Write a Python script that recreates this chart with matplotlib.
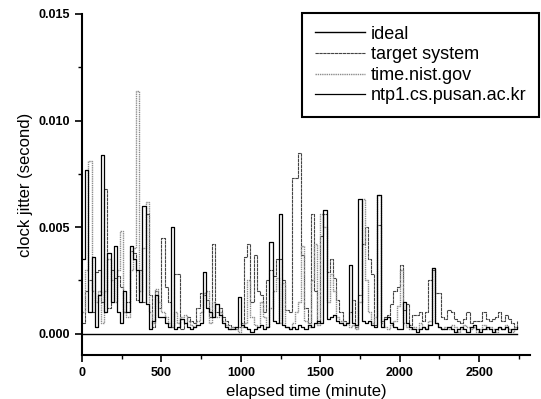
import numpy as np
import matplotlib
matplotlib.use('Agg')
import matplotlib.pyplot as plt
from matplotlib.ticker import MultipleLocator

plt.rcParams['font.family'] = ['Liberation Sans', 'DejaVu Sans']

# sampling grid (minutes) and jitter readings in milliseconds
minutes = np.arange(0, 2760, 20)

target_ms = [
    0.5, 2.0, 2.5, 1.0, 2.9, 3.0, 1.5, 6.8, 1.2, 3.0,
    2.6, 2.7, 2.2, 1.0, 1.5, 3.9, 3.8, 1.6, 3.0, 1.5,
    5.6, 1.8, 0.3, 2.0, 1.2, 4.5, 2.2, 1.5, 0.3, 2.8,
    2.8, 0.2, 0.5, 0.8, 0.6, 0.5, 1.2, 1.9, 1.8, 1.6,
    0.8, 4.2, 1.0, 1.2, 0.8, 0.6, 0.4, 0.3, 0.2, 0.3,
    0.5, 3.6, 4.2, 1.5, 3.7, 2.0, 1.8, 1.0, 2.5, 3.0,
    2.7, 3.5, 3.5, 2.5, 1.1, 1.0, 7.3, 7.3, 8.5, 3.7,
    1.2, 0.5, 5.6, 2.0, 0.5, 4.6, 5.6, 2.9, 3.5, 2.6,
    1.6, 1.0, 0.6, 0.5, 1.0, 1.6, 0.3, 1.8, 4.2, 5.0,
    3.5, 2.8, 0.4, 5.1, 0.6, 0.8, 0.9, 1.4, 2.0, 2.2,
    3.2, 1.1, 1.4, 0.4, 0.9, 0.9, 1.0, 0.6, 1.0, 2.5,
    3.0, 1.9, 1.9, 0.8, 0.7, 1.1, 1.0, 0.7, 0.6, 0.5,
    0.7, 1.0, 0.5, 0.6, 0.6, 0.6, 1.0, 0.7, 0.6, 0.7,
    0.8, 1.0, 0.6, 0.9, 0.7, 0.5, 0.3, 0.6,
]

nist_ms = [
    1.0, 3.0, 8.1, 2.0, 1.5, 2.0, 0.5, 2.0, 3.5, 2.5,
    1.5, 3.0, 4.8, 1.0, 0.8, 3.0, 4.0, 11.4, 2.0, 4.0,
    6.2, 1.0, 0.5, 2.1, 1.5, 1.0, 0.8, 0.5, 0.3, 1.0,
    0.5, 0.8, 0.9, 0.6, 0.4, 0.3, 0.6, 1.0, 1.9, 2.0,
    0.5, 1.5, 0.8, 1.0, 0.6, 0.4, 0.2, 0.3, 0.2, 0.1,
    0.3, 0.5, 2.5, 0.8, 0.4, 0.3, 1.5, 0.8, 0.3, 1.2,
    2.0, 2.6, 0.5, 2.4, 0.3, 0.2, 0.5, 1.0, 1.5, 4.1,
    0.6, 0.3, 2.5, 4.2, 0.4, 5.6, 5.0, 1.5, 2.8, 2.0,
    0.8, 0.6, 0.4, 0.5, 0.3, 0.4, 0.2, 1.5, 6.3, 2.5,
    1.0, 0.5, 0.8, 6.5, 0.5, 0.3, 0.2, 0.4, 0.6, 1.3,
    3.0, 0.5, 0.3, 0.2, 0.3, 0.2, 0.5, 0.3, 0.2, 0.6,
    3.1, 0.5, 0.3, 0.2, 0.3, 0.2, 0.4, 0.3, 0.1, 0.2,
    0.4, 0.3, 0.2, 0.3, 0.1, 0.2, 0.4, 0.2, 0.3, 0.2,
    0.1, 0.3, 0.2, 0.4, 0.2, 0.1, 0.3, 0.2,
]

ntp1_ms = [
    3.5, 7.7, 1.0, 3.6, 0.3, 1.8, 8.4, 1.0, 3.8, 1.5,
    4.1, 1.0, 0.5, 2.0, 1.0, 4.1, 3.5, 3.0, 1.5, 6.0,
    1.4, 0.2, 0.6, 1.8, 0.8, 0.8, 0.5, 0.3, 5.0, 0.2,
    0.3, 0.7, 0.5, 0.3, 0.2, 0.3, 0.4, 0.5, 2.9, 1.2,
    1.0, 0.8, 1.4, 0.9, 0.5, 0.3, 0.2, 0.2, 0.3, 1.7,
    0.4, 0.3, 0.2, 0.1, 0.2, 0.3, 0.4, 0.2, 0.3, 4.3,
    0.6, 0.5, 5.6, 0.4, 0.3, 0.2, 0.3, 0.2, 0.4, 0.3,
    0.2, 0.4, 0.3, 0.5, 0.6, 0.5, 5.8, 0.7, 0.8, 0.9,
    0.6, 0.5, 0.4, 0.5, 3.2, 0.5, 0.4, 6.3, 0.6, 0.5,
    0.6, 0.4, 0.3, 6.5, 0.3, 0.7, 0.8, 0.5, 0.3, 0.2,
    0.2, 1.5, 0.5, 0.3, 0.2, 0.1, 0.2, 0.3, 0.2, 0.4,
    3.1, 0.5, 0.3, 0.2, 0.2, 0.3, 0.2, 0.1, 0.2, 0.3,
    0.2, 0.1, 0.3, 0.4, 0.2, 0.1, 0.2, 0.3, 0.2, 0.1,
    0.2, 0.3, 0.2, 0.3, 0.1, 0.2, 0.2, 0.3,
]

ideal_ms = [0.0] * len(minutes)

fig = plt.figure(figsize=(5.41, 3.99), dpi=100)
ax = fig.add_axes([82 / 541, 1 - 355 / 399, 448 / 541, 341 / 399])

ax.step(minutes, np.array(ideal_ms) / 1000, where='post', color='black', lw=1.0, label='ideal')
ax.step(minutes, np.array(target_ms) / 1000, where='post', color='#444444', lw=0.8,
        ls=(0, (3, 0.5)), label='target system')
ax.step(minutes, np.array(nist_ms) / 1000, where='post', color='#8c8c8c', lw=1.0,
        ls=(0, (1, 0.6)), label='time.nist.gov')
ax.step(minutes, np.array(ntp1_ms) / 1000, where='post', color='black', lw=0.9,
        label='ntp1.cs.pusan.ac.kr')

ax.set_xlim(0, 2820)
ax.set_ylim(-0.001, 0.015)
ax.xaxis.set_major_locator(MultipleLocator(500))
ax.xaxis.set_minor_locator(MultipleLocator(250))
ax.yaxis.set_major_locator(MultipleLocator(0.005))
ax.yaxis.set_minor_locator(MultipleLocator(0.0025))
ax.yaxis.set_major_formatter(plt.FormatStrFormatter('%.3f'))

for s in ['top', 'right']:
    ax.spines[s].set_visible(False)
for s in ['left', 'bottom']:
    ax.spines[s].set_linewidth(1.5)

ax.tick_params(which='major', direction='out', length=5, width=1.2, labelsize=9)
ax.tick_params(which='minor', direction='out', length=3, width=1.0)
for lbl in ax.get_xticklabels() + ax.get_yticklabels():
    lbl.set_fontweight('bold')

ax.set_xlabel('elapsed time (minute)', fontsize=12)
ax.set_ylabel('clock jitter (second)', fontsize=12)

leg = fig.legend(loc='upper right', bbox_to_anchor=(539 / 541, 1 - 13 / 399),
                 fontsize=13, handlelength=2.8, handletextpad=0.3,
                 labelspacing=0.2, borderpad=0.7, borderaxespad=0,
                 fancybox=False, edgecolor='black', framealpha=1)
leg.get_frame().set_linewidth(1.5)

plt.savefig('out.png', dpi=100)
